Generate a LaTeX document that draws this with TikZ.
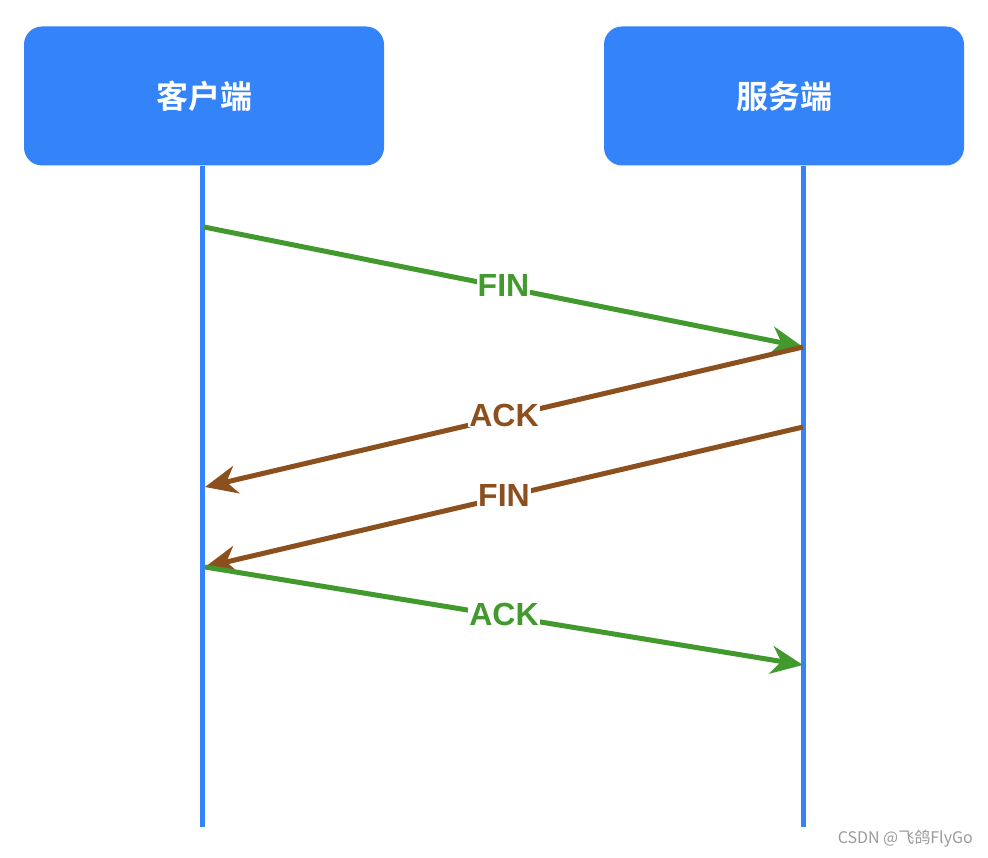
\documentclass[tikz,border=0pt]{standalone}
\usepackage{fontspec}
\setmainfont{Liberation Sans}
\newfontfamily\cjk{Noto Sans CJK SC}
\newfontfamily\cjkb{Noto Sans CJK SC Bold}
\usetikzlibrary{arrows.meta}
\definecolor{boxblue}{HTML}{3483F8}
\definecolor{msggreen}{HTML}{429A2E}
\definecolor{msgbrown}{HTML}{8C4F1E}
\definecolor{wmgray}{HTML}{9A9A9A}
\tikzset{
  party/.style={fill=boxblue, draw=none, rounded corners=18pt, minimum width=360pt, minimum height=139pt, inner sep=0pt, text=white, font=\cjkb\fontsize{32}{32}\selectfont},
  lifeline/.style={draw=boxblue, line width=5pt},
  msg/.style={line width=5pt, -{Stealth[length=32pt,width=28pt,inset=10pt]}},
  lbl/.style={fill=white, inner xsep=1pt, inner ysep=0pt, yshift=1.5pt, font=\bfseries\fontsize{32}{32}\selectfont},
}
\begin{document}
\begin{tikzpicture}[x=1pt,y=-1pt]
\useasboundingbox (0,0) rectangle (988,858);
\node[party] (client) at (204,96) {客户端};
\node[party] (server) at (784,96) {服务端};
\coordinate (cl0) at (202,166);
\coordinate (cl1) at (202,827);
\coordinate (sl0) at (803,166);
\coordinate (sl1) at (803,827);
\draw[lifeline] (cl0) -- (cl1);
\draw[lifeline] (sl0) -- (sl1);
\coordinate (c1) at (204,227);
\coordinate (s1) at (803,347);
\coordinate (c2) at (205,487);
\coordinate (s3) at (803,427);
\coordinate (c3) at (205,567);
\coordinate (s4) at (803,665);
\draw[msg, draw=msggreen, fill=msggreen] (c1) -- node[lbl, text=msggreen] {FIN} (s1);
\draw[msg, draw=msgbrown, fill=msgbrown] (s1) -- node[lbl, text=msgbrown] {ACK} (c2);
\draw[msg, draw=msgbrown, fill=msgbrown] (s3) -- node[lbl, text=msgbrown] {FIN} (c3);
\draw[msg, draw=msggreen, fill=msggreen] (c3) -- node[lbl, text=msggreen] {ACK} (s4);
\node[anchor=east, text=wmgray, font=\cjk\fontsize{16}{16}\selectfont, inner sep=0pt] (wm) at (973,839) {CSDN @飞鸽FlyGo};
\end{tikzpicture}
\end{document}
